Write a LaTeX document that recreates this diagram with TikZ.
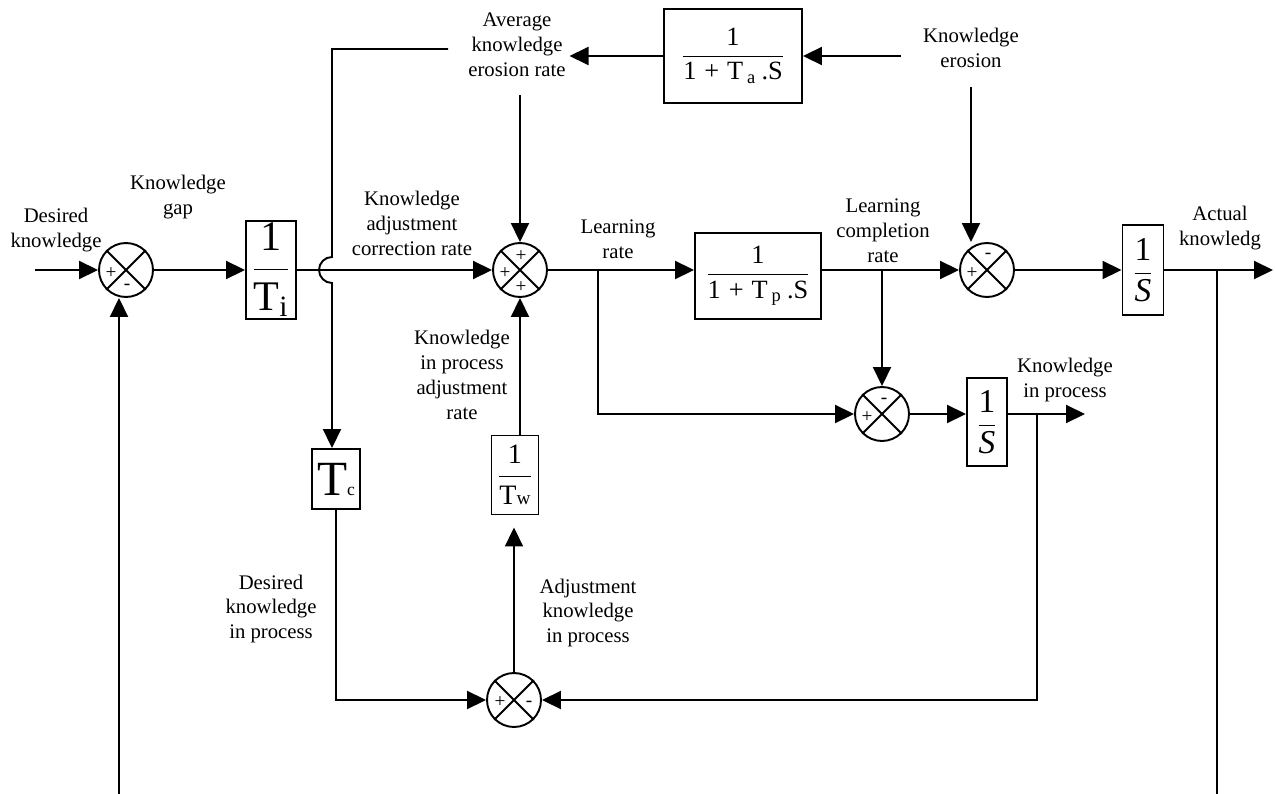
\documentclass[tikz,border=0pt]{standalone}
\usepackage{fontspec}
\setmainfont{Liberation Serif}
\usetikzlibrary{arrows.meta}
\newcommand{\blkfrac}[2]{$\displaystyle\frac{\mbox{#1}}{\mbox{#2}}$}
\tikzset{
  blk/.style={rectangle,draw,line width=1.1pt,inner sep=1pt,align=center},
  summer/.style={circle,draw,line width=1.1pt,minimum size=1.08cm,inner sep=0pt},
  lab/.style={align=center,font=\fontsize{11.8}{14.2}\selectfont,inner sep=2pt},
  sign/.style={font=\fontsize{11}{11}\selectfont,inner sep=0pt},
  wire/.style={line width=1.1pt},
  sig/.style={wire,-{Triangle[length=0.38cm,width=0.36cm]}}
}

\begin{document}
\begin{tikzpicture}[x=0.02cm,y=-0.02cm]
  \useasboundingbox (0,0) rectangle (1275,794);

  \node[summer] (s1) at (126,270) {};
  \node[summer] (s2) at (520,270) {};
  \node[summer] (s3) at (987,270) {};
  \node[summer] (s4) at (882,414) {};
  \node[summer] (s5) at (514,700) {};
  \foreach \s in {s1,s2,s3,s4,s5}
    \draw[line width=1.1pt] (\s.north east) -- (\s.south west)
      (\s.north west) -- (\s.south east);

  \node[sign] (s1p) at ([shift={(-15,3)}]s1.center) {+};
  \node[sign] (s1m) at ([shift={(1,17)}]s1.center) {-};
  \node[sign] (s2t) at ([shift={(1,-14)}]s2.center) {+};
  \node[sign] (s2l) at ([shift={(-15,3)}]s2.center) {+};
  \node[sign] (s2b) at ([shift={(1,17)}]s2.center) {+};
  \node[sign] (s3p) at ([shift={(-15,3)}]s3.center) {+};
  \node[sign] (s3m) at ([shift={(1,-14)}]s3.center) {-};
  \node[sign] (s4p) at ([shift={(-15,3)}]s4.center) {+};
  \node[sign] (s4m) at ([shift={(2,-13)}]s4.center) {-};
  \node[sign] (s5p) at ([shift={(-14,2)}]s5.center) {+};
  \node[sign] (s5m) at ([shift={(15,4)}]s5.center) {-};

  \node[blk,minimum width=1cm,minimum height=1.92cm,
    font=\fontsize{24}{28}\selectfont] (Ti) at (271,270)
    {\blkfrac{1}{T\textsubscript{i}}};
  \node[blk,minimum width=2.76cm,minimum height=1.88cm,
    font=\fontsize{15}{18}\selectfont] (Ta) at (733,56)
    {\blkfrac{1}{1\hspace{0.3em}+\hspace{0.3em}T\hspace{0.15em}\textsubscript{a}\hspace{0.2em}.S}};
  \node[blk,minimum width=2.52cm,minimum height=1.72cm,
    font=\fontsize{15}{18}\selectfont] (Tp) at (758,276)
    {\blkfrac{1}{1\hspace{0.3em}+\hspace{0.3em}T\hspace{0.15em}\textsubscript{p}\hspace{0.2em}.S}};
  \node[blk,minimum width=0.82cm,minimum height=1.8cm,
    font=\fontsize{19}{22}\selectfont] (Sa) at (1143,270)
    {\blkfrac{1}{\textit{S}}};
  \node[blk,minimum width=0.8cm,minimum height=1.76cm,
    font=\fontsize{19}{22}\selectfont] (Sp) at (987,422)
    {\blkfrac{1}{\textit{S}}};
  \node[blk,minimum width=0.96cm,minimum height=1.2cm,
    font=\fontsize{28}{30}\selectfont] (Tc) at (336,479)
    {T{\fontsize{10}{10}\selectfont c}};
  \node[blk,minimum width=0.94cm,minimum height=1.58cm,
    font=\fontsize{16}{19}\selectfont] (Tw) at (515,475)
    {\blkfrac{1}{T{\fontsize{11}{11}\selectfont w}}};

  \node[lab] (desk) at (56,230) {Desired\\knowledge};
  \node[lab] (kgap) at (178,197) {Knowledge\\gap};
  \node[lab] (kacr) at (412,223) {Knowledge\\adjustment\\correction rate};
  \node[lab] (avgrate) at (517,45) {Average\\knowledge\\erosion rate};
  \node[lab] (erosion) at (971,48) {Knowledge\\erosion};
  \node[lab] (lrate) at (618,239) {Learning\\rate};
  \node[lab] (lcrate) at (883,231) {Learning\\completion\\rate};
  \node[lab] (actk) at (1220,228) {Actual\\knowledg};
  \node[lab] (kip) at (1065,380) {Knowledge\\in process};
  \node[lab] (kipar) at (462,375) {Knowledge\\in process\\adjustment\\rate};
  \node[lab] (dkip) at (271,609) {Desired\\knowledge\\in process};
  \node[lab] (akip) at (588,613) {Adjustment\\knowledge\\in process};

  \coordinate (inK) at (35,270);
  \coordinate (avgout) at (448,49);
  \coordinate (cTop) at (332,49);
  \coordinate (jmp) at (332,270);
  \coordinate (lr) at (598,270);
  \coordinate (outK) at (1273,270);
  \coordinate (fbR) at (1217,794);
  \coordinate (fbL) at (119,794);
  \coordinate (outP) at (1085,414);
  \coordinate (kp) at (1037,414);

  \draw[sig] (inK) -- (s1);
  \draw[sig] (s1) -- (Ti);
  \draw[sig] (Ti) -- (s2);
  \draw[sig] (avgout) -- (cTop) -- ([yshift=0.26cm]jmp)
    arc[start angle=90,end angle=270,radius=0.26cm] -- (cTop |- Tc.north);
  \draw[sig] (Ta.west) -- (Ta.west -| avgrate.east);
  \draw[sig,shorten <=0.28cm] (s2 |- avgrate.south) -- (s2);
  \draw[sig] ([xshift=-0.36cm]erosion.west |- Ta.east) -- (Ta.east);
  \draw[sig,shorten <=0.3cm] (erosion.south) -- (erosion.south |- s3.north);
  \draw[sig] (s2.east) -- (s2.east -| Tp.west);
  \draw[sig] (lr) |- (s4);
  \draw[sig] (Tp.east |- s3) -- (s3);
  \draw[sig] (s4 |- s3) -- (s4);
  \draw[sig] (s3) -- (Sa);
  \draw[sig] (Sa) -- (outK);
  \draw[wire] (fbR |- Sa) -- (fbR);
  \draw[sig] (fbL) -- (fbL |- s1.south);
  \draw[sig] (s4) -- (Sp.west |- s4);
  \draw[sig] (Sp.east |- s4) -- (outP);
  \draw[sig] (kp) |- (s5);
  \draw[sig] (Tc.south) |- (s5);
  \draw[sig,shorten >=0.24cm] (s5.north) -- (s5.north |- Tw.south);
  \draw[sig] (s2 |- Tw.north) -- (s2);
\end{tikzpicture}
\end{document}
